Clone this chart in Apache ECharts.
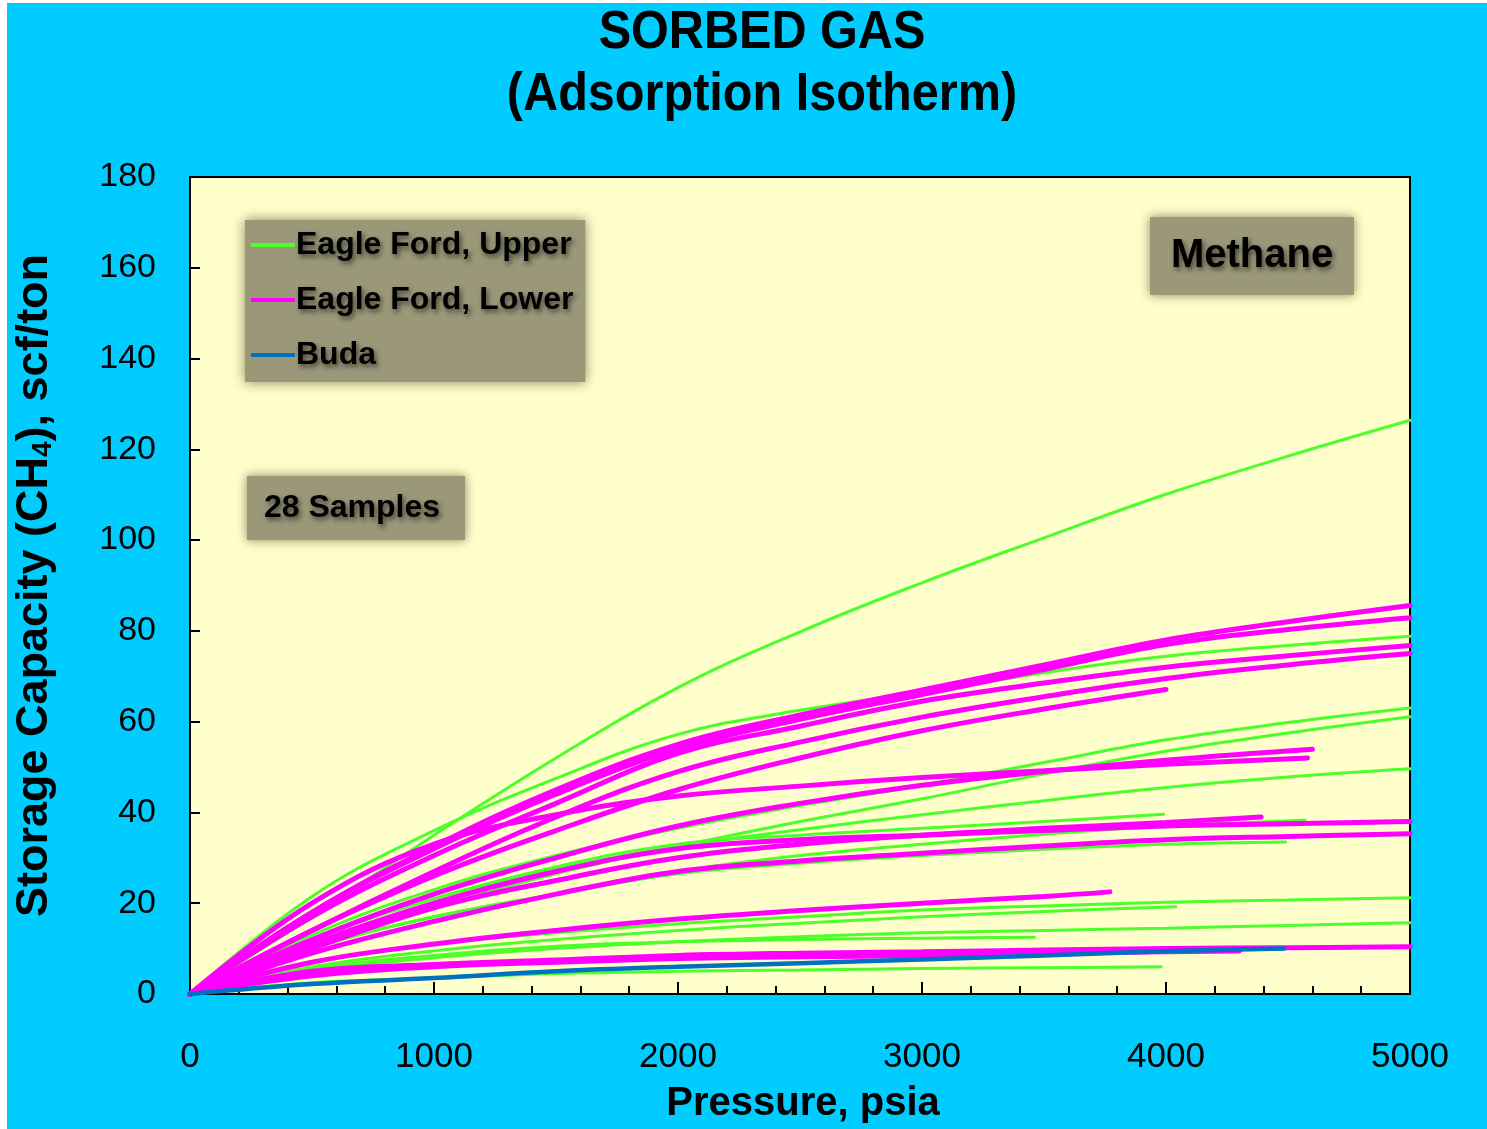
<!DOCTYPE html>
<html>
<head>
<meta charset="utf-8">
<script src="https://cdn.jsdelivr.net/npm/echarts@6/dist/echarts.min.js"></script>
<style>
  html, body { margin: 0; padding: 0; background: #ffffff; }
  #chart { position: absolute; left: 7px; top: 3px; width: 1480px; height: 1126px; background: #00CCFF; }
</style>
</head>
<body>
<div id="chart"></div>
<script>
// Methane adsorption isotherms, [pressure psia, scf/ton]
// Eagle Ford, Upper
const upperA = [[0,0],[500,17],[1000,35],[1500,52],[2000,67.5],[2500,79.8],[3000,90.6],[3500,100.5],[4000,110.1],[4500,118.5],[5000,126.4]];
const upperB = [[0,0],[500,21.5],[1000,36],[1500,47.5],[2000,57.2],[2500,62.5],[3000,66.5],[3500,70.8],[4000,74.4],[4500,76.8],[5000,78.8]];
const upperC = [[0,0],[500,13],[1000,23],[1500,30.5],[2000,36.5],[2500,41.5],[3000,46],[3500,51],[4000,56],[4500,59.8],[5000,63]];
const upperD = [[0,0],[500,10.5],[1000,19],[1500,26.5],[2000,32.5],[2500,38],[3000,43],[3500,48.5],[4000,53.5],[4500,57.5],[5000,61.1]];
const upperE = [[0,0],[500,12],[1000,21],[1500,27.5],[2000,32.5],[2500,36.2],[3000,39.5],[3500,42.6],[4000,45.5],[4500,47.8],[5000,49.6]];
const upperF = [[0,0],[500,12],[1000,21],[1500,28],[2000,33],[2500,35],[3000,36.5],[3500,38],[3990,39.6]];
const upperG = [[0,0],[500,10],[1000,17],[1500,22],[2000,27],[2500,30.5],[3000,33],[3500,35.2],[4000,37],[4570,38.3]];
const upperH = [[0,0],[500,10],[1000,17],[1500,22],[2000,26.5],[2500,28.8],[3000,30.5],[3500,31.9],[4000,33],[4490,33.5]];
const upperI = [[0,0],[500,7],[1000,11],[1500,13.5],[2000,15.5],[2500,17],[3000,18.5],[3500,19.4],[4000,20.2],[4500,20.7],[5000,21.2]];
const upperJ = [[0,0],[500,6],[1000,9.5],[1500,12],[2000,14],[2500,15.6],[3000,17],[3500,18.2],[4040,19.2]];
const upperK = [[0,0],[500,5],[1000,8],[1500,10],[2000,11.5],[2500,12.6],[3000,13.5],[3500,14],[4000,14.5],[4500,15.1],[5000,15.7]];
const upperL = [[0,0],[500,5.5],[1000,8.5],[1500,10.5],[2000,11.5],[2500,12],[3000,12.3],[3460,12.5]];
const upperM = [[0,0],[500,2.5],[1000,3.5],[1500,4.5],[2000,5],[2500,5.3],[3000,5.6],[3500,5.8],[3980,6.0]];

// Eagle Ford, Lower
const lowerA = [[0,0],[500,18],[1000,32.5],[1500,45],[2000,55],[2500,61.5],[3000,67],[3500,72.5],[4000,78],[4500,82],[5000,85.6]];
const lowerB = [[0,0],[500,18],[1000,32],[1500,44],[2000,54],[2500,60.5],[3000,66],[3500,71.5],[4000,77],[4500,80.3],[5000,82.9]];
const lowerC = [[0,0],[500,17],[1000,30.5],[1500,42],[2000,53],[2500,59],[3000,64.5],[3500,68.5],[4000,72],[4500,74.5],[5000,76.8]];
const lowerD = [[0,0],[500,14],[1000,27],[1500,39],[2000,49],[2500,55.5],[3000,61],[3500,65.5],[4000,69.5],[4500,72.5],[5000,75]];
const lowerE = [[0,0],[500,14],[1000,26],[1500,36],[2000,45],[2500,52],[3000,58],[3500,62.8],[4000,67.1]];
const lowerF = [[0,0],[500,20],[1000,33],[1500,39.5],[2000,43.6],[2500,45.8],[3000,47.7],[3500,49.2],[4000,50.6],[4580,52.0]];
const lowerG = [[0,0],[500,12],[1000,22],[1500,30],[2000,37],[2500,42],[3000,46],[3500,49],[4000,51.5],[4600,53.9]];
const lowerH = [[0,0],[500,11],[1000,20],[1500,27],[2000,32],[2500,34],[3000,35],[3500,36],[4000,37],[4500,37.5],[5000,38.0]];
const lowerI = [[0,0],[500,10],[1000,19],[1500,25],[2000,30],[2500,33],[3000,35],[3500,36.5],[4000,37.8],[4390,39.0]];
const lowerJ = [[0,0],[500,9],[1000,16],[1500,22],[2000,27],[2500,29.3],[3000,31],[3500,32.6],[4000,34],[4500,34.7],[5000,35.3]];
const lowerK = [[0,0],[500,7],[1000,11],[1500,14],[2000,16.5],[2500,18.4],[3000,20],[3500,21.5],[3770,22.5]];
const lowerL = [[0,0],[500,5],[1000,6.5],[1500,7.5],[2000,8.5],[2500,9],[3000,9.3],[3500,9.7],[4000,10],[4500,10.2],[5000,10.4]];
const lowerM = [[0,0],[500,4],[1000,6],[1500,7],[2000,7.8],[2500,8.2],[3000,8.5],[3500,9],[4000,9.3],[4300,9.5]];

// Buda
const budaA = [[0,0],[500,2.2],[1000,3.5],[1500,5],[2000,6],[2500,6.8],[3000,7.6],[3500,8.5],[4000,9.4],[4485,10.0]];

const upperCurves = [upperA, upperB, upperC, upperD, upperE, upperF, upperG, upperH, upperI, upperJ, upperK, upperL, upperM];
const lowerCurves = [lowerA, lowerB, lowerC, lowerD, lowerE, lowerF, lowerG, lowerH, lowerI, lowerJ, lowerK, lowerL, lowerM];
const budaCurves = [budaA];

const yTicks = [0, 20, 40, 60, 80, 100, 120, 140, 160, 180];
const xTicks = [0, 1000, 2000, 3000, 4000, 5000];

const GREEN = '#4cff2a';
const MAGENTA = '#ff00ff';
const BLUE = '#0070c0';
const FONT = '"Liberation Sans", Arial, sans-serif';

function lineSeries(name, data, color, width, z) {
  return {
    name: name,
    type: 'line',
    data: data,
    smooth: 0.4,
    symbol: 'none',
    clip: false,
    z: z,
    lineStyle: { color: color, width: width, cap: 'round' },
    itemStyle: { color: color },
    emphasis: { disabled: true }
  };
}

const series = [];
upperCurves.forEach(d => series.push(lineSeries('Eagle Ford, Upper', d, GREEN, 3, 2)));
lowerCurves.forEach(d => series.push(lineSeries('Eagle Ford, Lower', d, MAGENTA, 5, 3)));
budaCurves.forEach(d => series.push(lineSeries('Buda', d, BLUE, 4.5, 4)));

const chart = echarts.init(document.getElementById('chart'), null, { renderer: 'canvas' });

const boxShadow = { shadowBlur: 10, shadowColor: 'rgba(80,80,40,0.7)', shadowOffsetX: 0, shadowOffsetY: 0 };
const textShadow = { textShadowBlur: 5, textShadowColor: 'rgba(0,0,0,0.55)', textShadowOffsetX: 2, textShadowOffsetY: 3 };

chart.setOption({
  animation: false,
  backgroundColor: '#00CCFF',
  grid: {
    left: 183, top: 174, right: 77, bottom: 135,
    outerBoundsMode: 'none',
    show: true, backgroundColor: '#FFFFCC', borderColor: '#000', borderWidth: 2
  },
  legend: {
    left: 238, top: 217,
    orient: 'vertical',
    data: ['Eagle Ford, Upper', 'Eagle Ford, Lower', 'Buda'],
    icon: 'rect',
    itemWidth: 44, itemHeight: 4, itemGap: 21,
    padding: [8, 12, 10, 6],
    backgroundColor: '#9a9878',
    shadowBlur: 12, shadowColor: 'rgba(90,90,50,0.75)',
    selectedMode: false,
    textStyle: Object.assign({ fontFamily: FONT, fontSize: 32, fontWeight: 'bold', color: '#000', lineHeight: 34, padding: [0, 0, 0, -4] }, textShadow)
  },
  xAxis: {
    type: 'value', min: 0, max: 5000, interval: 1000,
    name: 'Pressure, psia', nameLocation: 'middle', nameGap: 90,
    nameTextStyle: { fontFamily: FONT, fontSize: 40, fontWeight: 'bold', color: '#000', padding: [0, 0, 0, 6] },
    axisLine: { show: true, lineStyle: { color: '#000', width: 2 } },
    axisTick: { show: true, inside: true, length: 12, lineStyle: { color: '#000', width: 2 } },
    minorTick: { show: true, splitNumber: 5, length: 8, lineStyle: { color: '#000', width: 2 } },
    splitLine: { show: false },
    axisLabel: { margin: 46, fontFamily: FONT, fontSize: 35, color: '#000',
      formatter: v => xTicks.includes(v) ? String(v) : '' }
  },
  yAxis: {
    type: 'value', min: 0, max: 180, interval: 20,
    name: 'Storage Capacity (CH{sub|4}), scf/ton', nameLocation: 'middle', nameGap: 133,
    nameTextStyle: { fontFamily: FONT, fontSize: 45, fontWeight: 'bold', color: '#000',
      rich: { sub: { fontFamily: FONT, fontSize: 28, fontWeight: 'bold', color: '#000', verticalAlign: 'bottom', padding: [16, 0, 0, 0] } } },
    axisLine: { show: true, lineStyle: { color: '#000', width: 2 } },
    axisTick: { show: true, inside: true, length: 10, lineStyle: { color: '#000', width: 2 } },
    splitLine: { show: false },
    axisLabel: { margin: 34, fontFamily: FONT, fontSize: 34, color: '#000', verticalAlign: 'middle',
      lineHeight: 34, padding: [10, 0, 0, 0],
      formatter: v => yTicks.includes(v) ? String(v) : '' }
  },
  graphic: [
    // Title, slightly condensed
    { type: 'text', x: 755, y: 30, scaleX: 0.9, originX: 0, originY: 0,
      style: { text: 'SORBED GAS', font: 'bold 54px ' + FONT, fill: '#000', textAlign: 'center', textVerticalAlign: 'middle' } },
    { type: 'text', x: 755, y: 92, scaleX: 0.9, originX: 0, originY: 0,
      style: { text: '(Adsorption Isotherm)', font: 'bold 54px ' + FONT, fill: '#000', textAlign: 'center', textVerticalAlign: 'middle' } },
    {
      type: 'group', left: 1143, top: 214,
      children: [
        { type: 'rect', shape: { x: 0, y: 0, width: 204, height: 78 }, style: Object.assign({ fill: '#9a9878' }, boxShadow) },
        { type: 'text', x: 102, y: 39, style: Object.assign({ text: 'Methane', font: 'bold 40px ' + FONT, fill: '#000', textAlign: 'center', textVerticalAlign: 'middle' }, textShadow) }
      ]
    },
    {
      type: 'group', left: 240, top: 473,
      children: [
        { type: 'rect', shape: { x: 0, y: 0, width: 218, height: 64 }, style: Object.assign({ fill: '#9a9878' }, boxShadow) },
        { type: 'text', x: 105, y: 32, style: Object.assign({ text: '28 Samples', font: 'bold 32px ' + FONT, fill: '#000', textAlign: 'center', textVerticalAlign: 'middle' }, textShadow) }
      ]
    }
  ],
  series: series
});
</script>
</body>
</html>
